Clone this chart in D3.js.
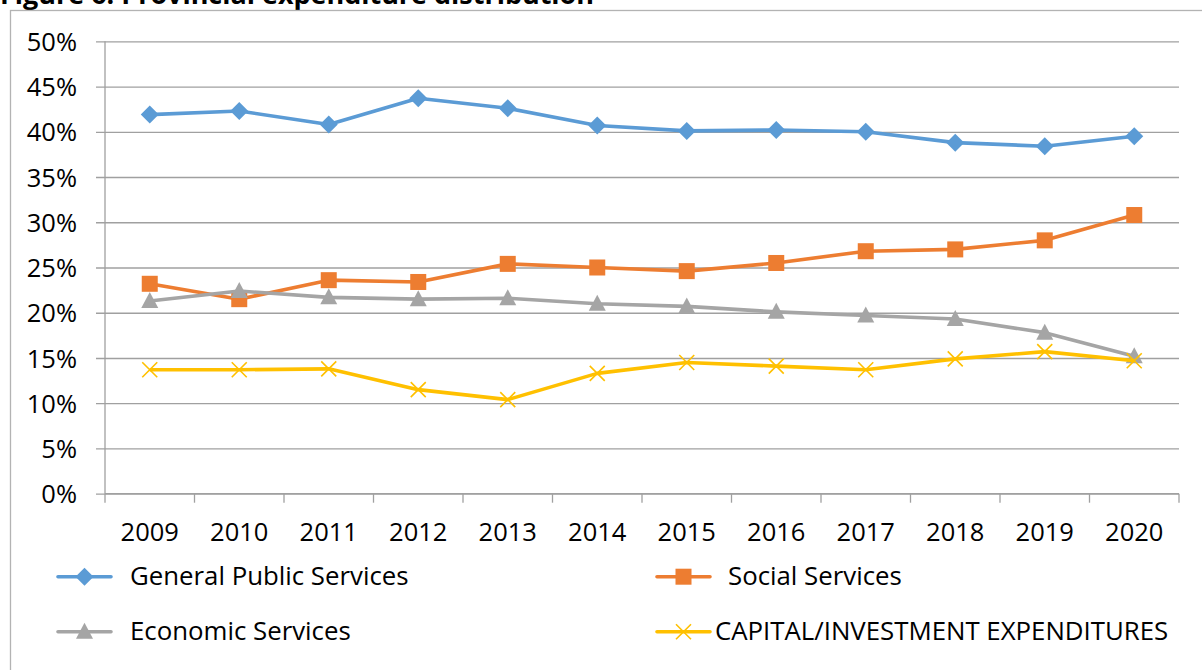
<!DOCTYPE html>
<html>
<head>
<meta charset="utf-8">
<script src="https://cdn.jsdelivr.net/npm/d3@7"></script>
<style>
  html, body { margin: 0; padding: 0; background: #fff; }
  svg { display: block; font-family: "Open Sans", "Liberation Sans", sans-serif; }
</style>
</head>
<body>
<svg id="chart" width="1202" height="670"></svg>
<script>
// ---- data ----
const title = "Figure 6: Provincial expenditure distribution";
const years = ["2009","2010","2011","2012","2013","2014","2015","2016","2017","2018","2019","2020"];
const generalPublic = [41.9, 42.3, 40.8, 43.7, 42.6, 40.7, 40.1, 40.2, 40.0, 38.8, 38.4, 39.5];
const socialServices = [23.2, 21.5, 23.6, 23.4, 25.4, 25.0, 24.6, 25.5, 26.8, 27.0, 28.0, 30.8];
const economicServices = [21.3, 22.4, 21.7, 21.5, 21.6, 21.0, 20.7, 20.1, 19.7, 19.3, 17.8, 15.2];
const capitalInvestment = [13.7, 13.7, 13.8, 11.5, 10.4, 13.3, 14.5, 14.1, 13.7, 14.9, 15.7, 14.7];
const seriesNames = ["General Public Services", "Social Services", "Economic Services", "CAPITAL/INVESTMENT EXPENDITURES"];
const yTicks = [0, 5, 10, 15, 20, 25, 30, 35, 40, 45, 50];

(function () {
const series = [
  { name: seriesNames[0], values: generalPublic, color: "#5B9BD5", marker: "diamond" },
  { name: seriesNames[1], values: socialServices, color: "#ED7D31", marker: "square" },
  { name: seriesNames[2], values: economicServices, color: "#A5A5A5", marker: "triangle" },
  { name: seriesNames[3], values: capitalInvestment, color: "#FFC000", marker: "x" }
];

const svg = d3.select("#chart");
const pLeft = 105, pRight = 1179, pTop = 41.3, pBottom = 493.7;

const x = d3.scaleBand().domain(years).range([pLeft, pRight]).padding(0);
const y = d3.scaleLinear().domain([0, 50]).range([pBottom, pTop]);
const cx = d => x(d) + x.bandwidth() / 2;

// title (cut off at top, as in the reference)
svg.append("text")
  .attr("x", 0).attr("y", 4)
  .attr("font-size", 26).attr("font-weight", "bold")
  .attr("textLength", 594).attr("lengthAdjust", "spacingAndGlyphs")
  .attr("fill", "#000")
  .text(title);

// chart frame
svg.append("rect")
  .attr("x", 10.5).attr("y", 10.5).attr("width", 1220).attr("height", 700)
  .attr("fill", "none").attr("stroke", "#b3b3b3").attr("stroke-width", 1.3);

// y gridlines and axis
const yAxis = d3.axisLeft(y).tickValues(yTicks)
  .tickSize(-(pRight - pLeft)).tickPadding(28)
  .tickFormat(d => d + "%");
const gy = svg.append("g").attr("transform", `translate(${pLeft},0)`).call(yAxis);
gy.select(".domain").remove();
gy.selectAll(".tick line").attr("stroke", "#a0a0a0").attr("stroke-width", 1.3).attr("x1", -9);
gy.selectAll(".tick text").attr("font-size", 25.5).attr("fill", "#000")
  .attr("font-family", "\"Open Sans\", sans-serif").attr("dy", "0.36em");

// y axis line
svg.append("line").attr("x1", pLeft).attr("x2", pLeft).attr("y1", pTop).attr("y2", pBottom)
  .attr("stroke", "#a0a0a0").attr("stroke-width", 1.3);

// x axis
const boundaries = years.map(d => x(d)).concat([pRight]);
svg.append("line").attr("x1", pLeft).attr("x2", pRight).attr("y1", pBottom).attr("y2", pBottom)
  .attr("stroke", "#a0a0a0").attr("stroke-width", 1.3);
svg.selectAll(".xtick").data(boundaries).enter().append("line")
  .attr("x1", d => d).attr("x2", d => d).attr("y1", pBottom).attr("y2", pBottom + 9)
  .attr("stroke", "#a0a0a0").attr("stroke-width", 1.3);
svg.selectAll(".xlabel").data(years).enter().append("text")
  .attr("x", d => cx(d)).attr("y", 541)
  .attr("text-anchor", "middle").attr("font-size", 25.5).attr("fill", "#000")
  .text(d => d);

// marker drawing
function drawMarker(g, type, color, px, py) {
  if (type === "diamond") {
    g.append("path").attr("d", `M${px},${py-9}L${px+9},${py}L${px},${py+9}L${px-9},${py}Z`).attr("fill", color);
  } else if (type === "square") {
    g.append("rect").attr("x", px - 8).attr("y", py - 8).attr("width", 16).attr("height", 16).attr("fill", color);
  } else if (type === "triangle") {
    g.append("path").attr("d", `M${px},${py-9}L${px+8.5},${py+7}L${px-8.5},${py+7}Z`).attr("fill", color);
  } else if (type === "x") {
    g.append("path").attr("d", `M${px-7.5},${py-7.5}L${px+7.5},${py+7.5}M${px+7.5},${py-7.5}L${px-7.5},${py+7.5}`)
      .attr("stroke", color).attr("stroke-width", 1.6).attr("fill", "none");
  }
}

const line = d3.line().x((d, i) => cx(years[i])).y(d => y(d));
series.forEach(s => {
  const g = svg.append("g");
  g.append("path").datum(s.values).attr("d", line)
    .attr("fill", "none").attr("stroke", s.color).attr("stroke-width", 3.6).attr("stroke-linejoin", "round");
  s.values.forEach((v, i) => drawMarker(g, s.marker, s.color, cx(years[i]), y(v)));
});

// legend
const legendPos = [
  { lx: 58, ly: 576.7, tx: 130 },
  { lx: 657, ly: 576.7, tx: 728 },
  { lx: 58, ly: 631.7, tx: 130 },
  { lx: 657, ly: 631.7, tx: 715 }
];
series.forEach((s, i) => {
  const p = legendPos[i];
  const g = svg.append("g");
  g.append("line").attr("x1", p.lx).attr("x2", p.lx + 53).attr("y1", p.ly).attr("y2", p.ly)
    .attr("stroke", s.color).attr("stroke-width", 3.6).attr("stroke-linecap", "round");
  drawMarker(g, s.marker, s.color, p.lx + 26.5, p.ly);
  g.append("text").attr("x", p.tx).attr("y", p.ly + 8.5)
    .attr("font-size", 25.8).attr("fill", "#000").text(s.name);
});
})();
</script>
</body>
</html>
